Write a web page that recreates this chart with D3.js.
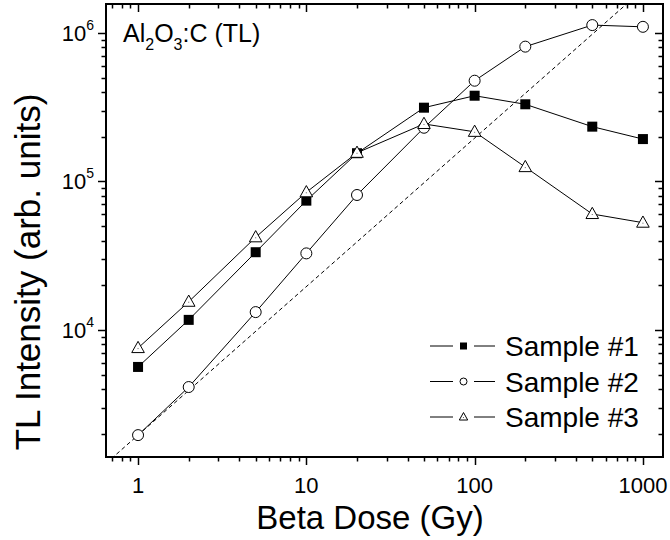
<!DOCTYPE html>
<html>
<head>
<meta charset="utf-8">
<script src="https://cdn.jsdelivr.net/npm/d3@7"></script>
<style>
  html, body { margin: 0; padding: 0; background: #fff; }
  svg { display: block; font-family: "Liberation Sans", Arial, sans-serif; }
</style>
</head>
<body>
<svg id="chart" width="670" height="540"></svg>
<script>
// ---- data ----
const doses = [1, 2, 5, 10, 20, 50, 100, 200, 500, 1000];
const sample1 = [5640, 11700, 33400, 74300, 155000, 314000, 378000, 331000, 234000, 193000];
const sample2 = [1960, 4130, 13200, 32800, 81100, 230000, 477000, 809000, 1130000, 1100000];
const sample3 = [7560, 15500, 42100, 84600, 156000, 244000, 216000, 125000, 60400, 52800];
const seriesNames = ["Sample #1", "Sample #2", "Sample #3"];
const xTickValues = [1, 10, 100, 1000];
const xTickLabels = ["1", "10", "100", "1000"];
const yTickExponents = [4, 5, 6];
const refSlopeFactor = 1960; // dashed linear reference: I = k * D
const xDomain = [0.645, 1316];
const yDomain = [1396, 1.567e6];

// ---- layout ----
const L = 106, R = 663, T = 4, B = 457;
const svg = d3.select("#chart");
const x = d3.scaleLog().domain(xDomain).range([L, R]);
const y = d3.scaleLog().domain(yDomain).range([B, T]);

svg.append("defs").append("clipPath").attr("id", "clip")
  .append("rect").attr("x", L).attr("y", T).attr("width", R - L).attr("height", B - T);

function logTicks(lo, hi) {
  const out = [];
  for (let e = Math.floor(Math.log10(lo)); e <= Math.ceil(Math.log10(hi)); e++) {
    for (let m = 1; m <= 9; m++) {
      const v = m * Math.pow(10, e);
      if (v >= lo && v <= hi) out.push({v, major: m === 1});
    }
  }
  return out;
}
const xt = logTicks(xDomain[0], xDomain[1]);
const yt = logTicks(yDomain[0], yDomain[1]);
const MAJ = 8, MIN = 4.5;

const axes = svg.append("g").attr("stroke", "#000").attr("stroke-width", 1.5);
xt.forEach(t => {
  const px = Math.round(x(t.v)) + 0.5;
  const len = t.major ? MAJ : MIN;
  axes.append("line").attr("x1", px).attr("x2", px).attr("y1", B).attr("y2", B + len);
  axes.append("line").attr("x1", px).attr("x2", px).attr("y1", T).attr("y2", T + len);
});
yt.forEach(t => {
  const py = Math.round(y(t.v)) + 0.5;
  const len = t.major ? MAJ : MIN;
  axes.append("line").attr("y1", py).attr("y2", py).attr("x1", L).attr("x2", L - len);
  axes.append("line").attr("y1", py).attr("y2", py).attr("x1", R).attr("x2", R - len);
});
svg.append("rect").attr("x", L).attr("y", T).attr("width", R - L).attr("height", B - T)
  .attr("fill", "none").attr("stroke", "#000").attr("stroke-width", 2);

// x tick labels
svg.append("g").selectAll("text").data(xTickValues).join("text")
  .attr("x", d => x(d)).attr("y", 493)
  .attr("text-anchor", "middle").attr("font-size", 22)
  .text((d, i) => xTickLabels[i]);

// y tick labels
const yl = svg.append("g").selectAll("text").data(yTickExponents).join("text")
  .attr("x", 94).attr("y", d => y(Math.pow(10, d)) + 8)
  .attr("text-anchor", "end").attr("font-size", 22);
yl.append("tspan").text("10");
yl.append("tspan").attr("font-size", 14).attr("dy", -11).text(d => d);

// axis titles
svg.append("text").attr("x", 370).attr("y", 529).attr("text-anchor", "middle")
  .attr("font-size", 33).text("Beta Dose (Gy)");
svg.append("text").attr("transform", "translate(40,272) rotate(-90)")
  .attr("text-anchor", "middle").attr("font-size", 35).text("TL Intensity (arb. units)");

// annotation
const ann = svg.append("text").attr("x", 123).attr("y", 42).attr("font-size", 25);
ann.append("tspan").text("Al");
ann.append("tspan").attr("font-size", 16).attr("dy", 8).text("2");
ann.append("tspan").attr("dy", -8).text("O");
ann.append("tspan").attr("font-size", 16).attr("dy", 8).text("3");
ann.append("tspan").attr("dy", -8).text(":C (TL)");

const plot = svg.append("g").attr("clip-path", "url(#clip)");

// dashed reference line
plot.append("line")
  .attr("x1", x(xDomain[0])).attr("y1", y(refSlopeFactor * xDomain[0]))
  .attr("x2", x(xDomain[1])).attr("y2", y(refSlopeFactor * xDomain[1]))
  .attr("stroke", "#000").attr("stroke-width", 1).attr("stroke-dasharray", "4,3");

const series = [sample1, sample2, sample3];
const line = d3.line().x(d => x(d[0])).y(d => y(d[1]));
series.forEach(s => {
  plot.append("path").datum(doses.map((d, i) => [d, s[i]]))
    .attr("d", line).attr("fill", "none").attr("stroke", "#000").attr("stroke-width", 1);
});

function drawMarker(g, kind, cx, cy, size) {
  if (kind === 0) {
    g.append("rect").attr("x", cx - size / 2).attr("y", cy - size / 2)
      .attr("width", size).attr("height", size).attr("fill", "#000");
  } else if (kind === 1) {
    g.append("circle").attr("cx", cx).attr("cy", cy).attr("r", size / 2)
      .attr("fill", "#fff").attr("stroke", "#000").attr("stroke-width", 1);
  } else {
    const h = size * 0.9;
    const w = size * 1.05;
    g.append("path")
      .attr("d", `M${cx},${cy - h * 0.62}L${cx + w / 2},${cy + h * 0.42}L${cx - w / 2},${cy + h * 0.42}Z`)
      .attr("fill", "#fff").attr("stroke", "#000").attr("stroke-width", 1);
    g.append("rect").attr("x", cx - 0.5).attr("y", cy).attr("width", 1).attr("height", 1).attr("fill", "#666");
  }
}
const mg = svg.append("g");
series.forEach((s, k) => {
  doses.forEach((d, i) => drawMarker(mg, k, x(d), y(s[i]), k === 0 ? 10 : (k === 1 ? 11 : 12)));
});

// legend
const lg = svg.append("g");
seriesNames.forEach((name, k) => {
  const by = 356 + k * 35.5;
  const ly = by - 10;
  lg.append("line").attr("x1", 430).attr("x2", 453).attr("y1", ly).attr("y2", ly)
    .attr("stroke", "#000").attr("stroke-width", 1);
  lg.append("line").attr("x1", 474).attr("x2", 495).attr("y1", ly).attr("y2", ly)
    .attr("stroke", "#000").attr("stroke-width", 1);
  drawMarker(lg, k, 463.5, ly, k === 2 ? 8 : 7);
  lg.append("text").attr("x", 505).attr("y", by).attr("font-size", 28).text(name);
});
</script>
</body>
</html>
